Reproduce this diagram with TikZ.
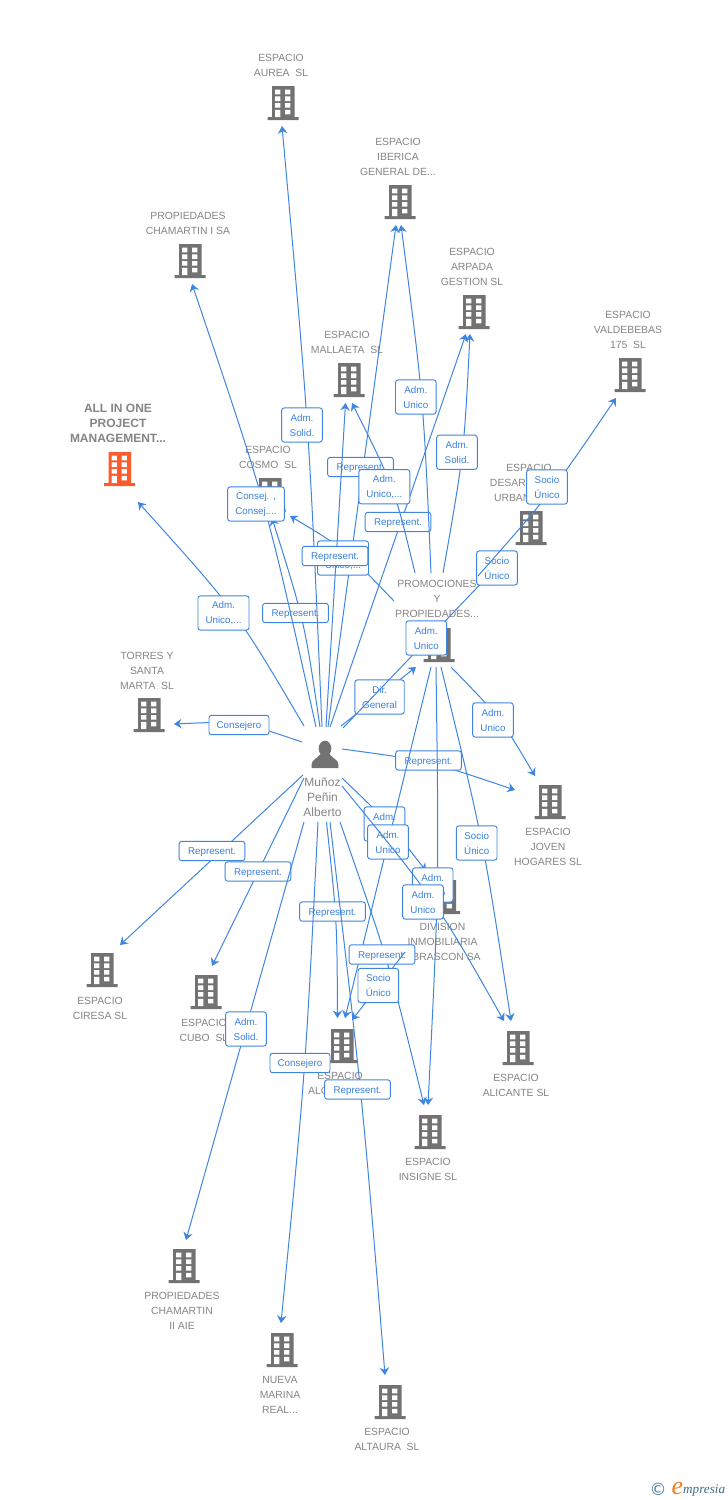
\documentclass[tikz,border=0pt]{standalone}
\usepackage{fontspec}
\setmainfont{Liberation Sans}
\usetikzlibrary{arrows.meta,positioning}
\definecolor{linkblue}{HTML}{3F86E2}
\definecolor{labeltext}{HTML}{3A80E0}
\definecolor{greytext}{HTML}{858585}
\definecolor{iconmid}{HTML}{727272}
\definecolor{iconred}{HTML}{FF5A2B}
\definecolor{logoblue}{HTML}{4F7F9F}
\definecolor{logoteal}{HTML}{3D6F85}
\definecolor{logoorange}{HTML}{F47B20}
\newcommand{\lbltext}{\fontsize{9.8}{15}\selectfont}
\tikzset{
  x=1pt,y=-1pt,
  link/.style={draw=linkblue,line width=1pt,-{Stealth[length=7.5pt,width=9.5pt,inset=2.5pt]}},
  tagbase/.style={draw=linkblue,line width=0.95pt,rounded corners=2.5pt,fill=white,text=labeltext,
    inner sep=0pt,align=center,font=\lbltext},
  tag/.style={tagbase,minimum height=19.4pt,minimum width=65.6pt,text height=7pt,text depth=0pt},
  tagtwo/.style={tagbase,minimum height=34.2pt,minimum width=40.6pt,
    execute at begin node={\rule{0pt}{9.2pt}}},
  name text/.style={text=greytext,align=center,inner sep=0pt,yshift=-1pt,font=\fontsize{10.4}{15}\selectfont},
  main text/.style={name text,font=\fontsize{12}{15}\selectfont\bfseries},
  person text/.style={text=greytext,align=center,inner sep=0pt,font=\fontsize{12}{15}\selectfont},
  bldg/.style={minimum width=32pt,minimum height=34pt,inner sep=0pt},
}
% building icon drawn inside a named node
\newcommand{\bldgicon}[3][iconmid]{%
  \node[bldg] (#2) at (#3) {};
  \begin{scope}[shift={(#3)}]
    \fill[#1] (-11,-17) rectangle (11.5,15) (-15.5,14) rectangle (15.5,17);
    \foreach \ry in {-13.3,-6.6,0.1}{
      \fill[white] (-8,\ry) rectangle (-2.6,\ry+4.6) (2,\ry) rectangle (7.4,\ry+4.6);
    }
    \fill[white] (-8,6.8) rectangle (-2.6,14) (2,6.8) rectangle (7.4,11.4);
  \end{scope}
}
\begin{document}
\begin{tikzpicture}
\useasboundingbox (0,0) rectangle (728,1500);
\fill[white] (0,0) rectangle (728,1500);

% ---------- names ----------
\node[name text] (tAurea) at (281,64.5) {ESPACIO\\AUREA~~SL};
\node[name text] (tIberica) at (398,156) {ESPACIO\\IBERICA\\GENERAL DE...};
\node[name text] (tChamI) at (188,222.5) {PROPIEDADES\\CHAMARTIN I SA};
\node[name text] (tArpada) at (472,266) {ESPACIO\\ARPADA\\GESTION SL};
\node[name text] (tValde) at (628,329) {ESPACIO\\VALDEBEBAS\\175~~SL};
\node[name text] (tMalla) at (347,341.5) {ESPACIO\\MALLAETA~~SL};
\node[main text] (tAll) at (118,422) {ALL IN ONE\\PROJECT\\MANAGEMENT...};
\node[name text] (tCosmo) at (268,456.5) {ESPACIO\\COSMO~~SL};
\node[name text] (tDesa) at (529,482) {ESPACIO\\DESARROLLOS\\URBANOS~~SL};
\node[name text] (tPromo) at (437,598) {PROMOCIONES\\Y\\PROPIEDADES...};
\node[name text] (tTorres) at (147,670) {TORRES Y\\SANTA\\MARTA~~SL};
\node[person text] (tPerson) at (322.5,797) {Muñoz\\Peñin\\Alberto};
\node[name text] (tJoven) at (548,846) {ESPACIO\\JOVEN\\HOGARES SL};
\node[name text] (tDiv) at (442.5,941) {DIVISION\\INMOBILIARIA\\OBRASCON SA};
\node[name text] (tCiresa) at (100,1007.5) {ESPACIO\\CIRESA SL};
\node[name text] (tCubo) at (204,1029.5) {ESPACIO\\CUBO~~SL};
\node[name text] (tAlc) at (340,1082.5) {ESPACIO\\ALCUDIA~~SL};
\node[name text] (tAlic) at (516,1084.5) {ESPACIO\\ALICANTE SL};
\node[name text] (tInsi) at (428,1168.5) {ESPACIO\\INSIGNE SL};
\node[name text] (tChamII) at (182,1310) {PROPIEDADES\\CHAMARTIN\\II AIE};
\node[name text] (tNueva) at (280,1394) {NUEVA\\MARINA\\REAL...};
\node[name text] (tAlta) at (387,1438.5) {ESPACIO\\ALTAURA~~SL};

% ---------- buildings ----------
\bldgicon{bAurea}{283,103}
\bldgicon{bIberica}{400,202}
\bldgicon{bChamI}{190,261}
\bldgicon{bArpada}{474,312}
\bldgicon{bValde}{630,375}
\bldgicon{bMalla}{349,380}
\bldgicon[iconred]{bAll}{119.5,469}
\bldgicon{bCosmo}{270,495}
\bldgicon{bDesa}{531,528}
\bldgicon{bPromo}{439,645}
\bldgicon{bTorres}{149,715}
\bldgicon{bJoven}{550,802}
\bldgicon{bDiv}{444.5,897}
\bldgicon{bCiresa}{102,970}
\bldgicon{bCubo}{206,992}
\bldgicon{bAlc}{342,1046}
\bldgicon{bAlic}{518,1048}
\bldgicon{bInsi}{430,1132}
\bldgicon{bChamII}{184,1266}
\bldgicon{bNueva}{282,1350}
\bldgicon{bAlta}{390,1402}

% ---------- person ----------
\node[minimum width=27pt,minimum height=28pt,inner sep=0pt] (person) at (325,755) {};
\fill[iconmid] (325,748.5) ellipse (6.3 and 7.8);
\fill[iconmid] (311.7,768) -- (311.7,764) .. controls (312,759.5) and (317,759) .. (320.5,754)
  -- (329.5,754) .. controls (333,759) and (338,759.5) .. (338.3,764) -- (338.3,768) -- cycle;

% ---------- connector ends ----------
\coordinate (sAll) at (304,726);
\coordinate (eAll) at (138,502);
\coordinate (sTorres) at (302,742);
\coordinate (eTorres) at (174,724);
\coordinate (sCosmo) at (320,727);
\coordinate (eCosmo) at (272,518);
\coordinate (sChamI) at (316,727);
\coordinate (eChamI) at (192,284);
\coordinate (sAurea) at (322,727);
\coordinate (eAurea) at (282,126);
\coordinate (sIber) at (328,727);
\coordinate (eIber) at (396,225);
\coordinate (sPC) at (394,601);
\coordinate (ePC) at (290,516);
\coordinate (sMalla) at (326,727);
\coordinate (eMalla) at (345.5,403);
\coordinate (sArp) at (330,727);
\coordinate (eArp) at (466,334);
\coordinate (sPM) at (415,573);
\coordinate (ePM) at (352,403);
\coordinate (sPI) at (431,573);
\coordinate (ePI) at (401,225);
\coordinate (sPA) at (443,573);
\coordinate (ePA) at (470,334);
\coordinate (sDir) at (341,726);
\coordinate (eDir) at (416,667);
\coordinate (sDes) at (343,728);
\coordinate (eDes) at (512,551);
\coordinate (sPD) at (480,585);
\coordinate (ePD) at (513,552);
\coordinate (sPV) at (478,576);
\coordinate (ePV) at (616,398);
\coordinate (sPJ) at (451,667);
\coordinate (ePJ) at (535,776);
\coordinate (sJov) at (342,749);
\coordinate (eJov) at (515,790);
\coordinate (sDiv) at (342,778);
\coordinate (eDiv) at (426,871);
\coordinate (sPAlc) at (431,667);
\coordinate (ePAlc) at (345,1018);
\coordinate (sPIn) at (436,667);
\coordinate (ePIn) at (428,1105);
\coordinate (sPAli) at (441,667);
\coordinate (ePAli) at (511,1021);
\coordinate (sAli) at (342,786);
\coordinate (eAli) at (504,1021);
\coordinate (sCir) at (303,775);
\coordinate (eCir) at (120,945);
\coordinate (sCub) at (304,778);
\coordinate (eCub) at (212,966);
\coordinate (sAlc) at (326.5,822);
\coordinate (eAlc) at (337.5,1018);
\coordinate (sIns) at (340,822);
\coordinate (eIns) at (424,1105);
\coordinate (sDA) at (405,952);
\coordinate (eDA) at (352,1020);
\coordinate (sCh2) at (304,822);
\coordinate (eCh2) at (186,1240);
\coordinate (sNue) at (318,822);
\coordinate (eNue) at (281,1323);
\coordinate (sAlt) at (330,822);
\coordinate (eAlt) at (385,1375);

% ---------- connectors with their labels ----------
\draw[link] (sAll) .. controls (237,612) .. (eAll);
\node[tagtwo,minimum width=51pt] (lAll) at (223.5,613) {Adm.\\Unico,...};
\draw[link] (sTorres) .. controls (240,721) .. (eTorres);
\node[tag,minimum width=60pt] (lTorres) at (239,725) {Consejero};
\draw[link] (sCosmo) .. controls (304.5,621.5) .. (eCosmo);
\node[tag] (lCosmo) at (295.5,613) {Represent.};
\draw[link] (sChamI) .. controls (267,505.5) .. (eChamI);
\node[tagtwo,minimum width=56.6pt] (lChamI) at (256,504) {Consej. ,\\Consej....};
\draw[link] (sAurea) .. controls (309,425.5) .. (eAurea);
\node[tagtwo] (lAurea) at (302,425) {Adm.\\Solid.};
\draw[link] (sIber) -- (eIber);
\node[tag] (lIber) at (360.5,467) {Represent.};
\draw[link] (sPC) .. controls (342,547) .. (ePC);
\node[tagtwo,minimum width=51pt] (lPC) at (343,558) {Adm.\\Unico,...};
\draw[link] (sMalla) -- (eMalla);
\node[tag] (lMalla) at (335,556) {Represent.};
\draw[link] (sArp) -- (eArp);
\node[tag] (lArp) at (398,522) {Represent.};
\draw[link] (sPM) .. controls (394.5,488) .. (ePM);
\node[tagtwo,minimum width=51pt] (lPM) at (384.4,486.7) {Adm.\\Unico,...};
\draw[link] (sPI) .. controls (423.5,399) .. (ePI);
\node[tagtwo] (lPI) at (415.8,397) {Adm.\\Unico};
\draw[link] (sPA) .. controls (464,453.5) .. (ePA);
\node[tagtwo] (lPA) at (457,452.3) {Adm.\\Solid.};
\draw[link] (sDir) -- (eDir);
\node[tagtwo,minimum width=49.3pt] (lDir) at (379.6,697) {Dir.\\General};
\draw[link] (sDes) -- (eDes);
\node[tagtwo] (lDes) at (426.3,638) {Adm.\\Unico};
\draw[link] (sPD) -- (ePD);
\node[tagtwo] (lPD) at (497,568) {Socio\\Único};
\draw[link] (sPV) .. controls (552,492) .. (ePV);
\node[tagtwo] (lPV) at (547,487) {Socio\\Único};
\draw[link] (sPJ) .. controls (501,718.5) .. (ePJ);
\node[tagtwo] (lPJ) at (493,720) {Adm.\\Unico};
\draw[link] (sJov) .. controls (427.5,760.5) .. (eJov);
\node[tag] (lJov) at (428.5,760.5) {Represent.};
\draw[link] (sDiv) .. controls (388,822) .. (eDiv);
\node[tagtwo] (lDiv) at (384.5,824) {Adm.\\Unico};
\draw[link] (sPAlc) -- (ePAlc);
\node[tagtwo] (lPAlc) at (388,842) {Adm.\\Unico};
\draw[link] (sPAli) .. controls (484,843.5) .. (ePAli);
\node[tagtwo] (lPAli) at (476.7,843) {Socio\\Único};
\draw[link] (sPIn) .. controls (439,885.5) .. (ePIn);
\node[tagtwo] (lPIn) at (432.7,885) {Adm.\\Unico};
\draw[link] (sAli) .. controls (437,902.5) .. (eAli);
\node[tagtwo] (lAli) at (423,902) {Adm.\\Unico};
\draw[link] (sCir) -- (eCir);
\node[tag] (lCir) at (212,851) {Represent.};
\draw[link] (sCub) -- (eCub);
\node[tag] (lCub) at (258,871.5) {Represent.};
\draw[link] (sAlc) .. controls (337,920) .. (eAlc);
\node[tag] (lAlc) at (332.5,911.5) {Represent.};
\draw[link] (sIns) .. controls (389,962.5) .. (eIns);
\node[tag] (lIns) at (382,954.5) {Represent.};
\draw[link] (sDA) -- (eDA);
\node[tagtwo] (lDA) at (378.3,985.5) {Socio\\Único};
\draw[link] (sCh2) -- (eCh2);
\node[tagtwo] (lCh2) at (246,1029) {Adm.\\Solid.};
\draw[link] (sNue) .. controls (305.5,1072) .. (eNue);
\node[tag,minimum width=60pt] (lNue) at (300,1063) {Consejero};
\draw[link] (sAlt) .. controls (362.5,1098.5) .. (eAlt);
\node[tag] (lAlt) at (357.5,1089.5) {Represent.};

% ---------- logo ----------
\node[inner sep=0pt,text=logoblue] (copyr) at (658,1489) {\fontspec{DejaVu Sans}\fontsize{17}{17}\selectfont ©};
\node[inner sep=0pt,anchor=base west,text=logoorange] (logoe) at (671.5,1494) {\fontspec{Liberation Serif}\fontsize{26}{26}\selectfont\itshape e};
\node[inner sep=0pt,anchor=base west,text=logoteal] (logot) at (683,1493) {\fontspec{Liberation Serif}\fontsize{13.2}{13.2}\selectfont\itshape mpresia};
\end{tikzpicture}
\end{document}
